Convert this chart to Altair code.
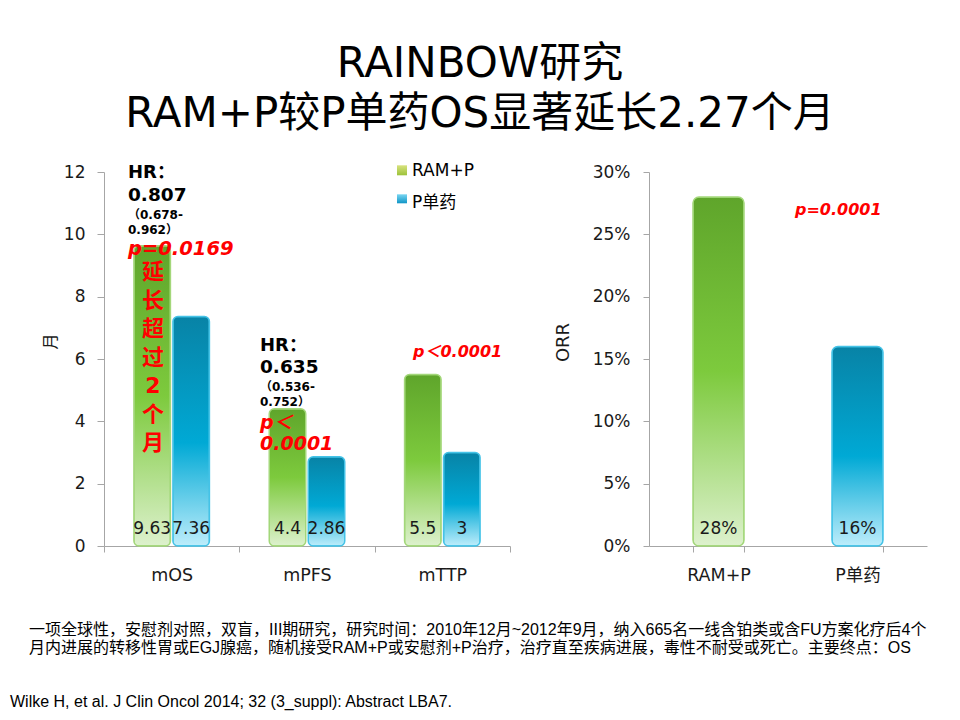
import altair as alt
import pandas as pd

# ---------------- data ----------------
categories = ["mOS", "mPFS", "mTTP"]
series = ["RAM+P", "P单药"]
ram_p_values = [9.63, 4.4, 5.5]
p_only_values = [7.36, 2.86, 3]
ram_p_labels = ["9.63", "4.4", "5.5"]
p_only_labels = ["7.36", "2.86", "3"]

orr_groups = ["RAM+P", "P单药"]
orr_values = [0.28, 0.16]
orr_labels = ["28%", "16%"]

left_ticks = [0, 2, 4, 6, 8, 10, 12]
right_ticks = [0, 0.05, 0.10, 0.15, 0.20, 0.25, 0.30]

title_lines = ["RAINBOW研究", "RAM+P较P单药OS显著延长2.27个月"]
footnote_lines = [
    "一项全球性，安慰剂对照，双盲，III期研究，研究时间：2010年12月~2012年9月，纳入665名一线含铂类或含FU方案化疗后4个",
    "月内进展的转移性胃或EGJ腺癌，随机接受RAM+P或安慰剂+P治疗，治疗直至疾病进展，毒性不耐受或死亡。主要终点：OS",
]
reference = "Wilke H, et al. J Clin Oncol 2014; 32 (3_suppl): Abstract LBA7."

rows = []
for c, v, l in zip(categories, ram_p_values, ram_p_labels):
    rows.append({"cat": c, "series": "RAM+P", "value": v, "label": l})
for c, v, l in zip(categories, p_only_values, p_only_labels):
    rows.append({"cat": c, "series": "P单药", "value": v, "label": l})
df_left = pd.DataFrame(rows)
df_right = pd.DataFrame({"group": orr_groups, "value": orr_values, "label": orr_labels})
one = pd.DataFrame({"k": [0]})

# ---------------- styles ----------------
FONT = "DejaVu Sans, Noto Sans CJK SC"
CJK = "Liberation Sans, Noto Sans CJK SC"
GRAY = "#a6a6a6"
INK = "#1a1a1a"
RED = "#ff0000"


def grad(stops):
    return alt.Gradient(
        gradient="linear",
        stops=[alt.GradientStop(color=c, offset=o) for o, c in stops],
        x1=0, x2=0, y1=0, y2=1,
    )


GREEN = grad([(0, "#5fa52b"), (0.5, "#7dca3d"), (1, "#ddf1cd")])
BLUE = grad([(0, "#0883a6"), (0.55, "#00a9d5"), (1, "#bdedfb")])
GREEN_LEG = grad([(0, "#d8e27e"), (1, "#9cc23a")])
BLUE_LEG = grad([(0, "#7ad6f2"), (1, "#0f95c6")])


def T(text, x, y, size, color="#000000", weight="normal", style="normal",
      align="left", baseline="middle", font=FONT, lineHeight=None):
    kw = dict(text=text, fontSize=size, color=color, fontWeight=weight,
              fontStyle=style, align=align, baseline=baseline, font=font)
    if lineHeight is not None:
        kw["lineHeight"] = lineHeight
    return alt.Chart(one).mark_text(**kw).encode(x=alt.value(x), y=alt.value(y))


# ---------------- left chart ----------------
LW, H = 406, 374

x_left = alt.X(
    "cat:N", sort=categories,
    scale=alt.Scale(domain=categories, paddingInner=0, paddingOuter=0),
    axis=alt.Axis(title=None, labelAngle=0, tickBand="extent", tickSize=6,
                  labelPadding=14, labelFontSize=17.5, labelColor=INK,
                  domainColor=GRAY, tickColor=GRAY, grid=False),
)
xoff_left = alt.XOffset(
    "series:N", sort=series,
    scale=alt.Scale(domain=series, paddingInner=0.064, paddingOuter=0.767),
)
y_left = alt.Y(
    "value:Q",
    scale=alt.Scale(domain=[0, 12], nice=False, zero=True),
    axis=alt.Axis(values=left_ticks, tickSize=7, labelPadding=12,
                  labelFontSize=17, labelColor=INK, domainColor=GRAY,
                  tickColor=GRAY, grid=False, title="月", titleFontSize=16,
                  titleFontWeight="normal", titleColor=INK, titleX=-54,
                  titleY=169, titleAngle=270, titleBaseline="middle"),
)

frame = alt.Chart(one).mark_rect(opacity=0).encode(
    x=alt.value(-96), x2=alt.value(848), y=alt.value(-163.7), y2=alt.value(540.3)
)

bars_g = alt.Chart(df_left).transform_filter(alt.datum.series == "RAM+P").mark_bar(
    color=GREEN, stroke="#a3d77a", strokeWidth=1.5, cornerRadius=5
).encode(x=x_left, xOffset=xoff_left, y=y_left)

bars_b = alt.Chart(df_left).transform_filter(alt.datum.series == "P单药").mark_bar(
    color=BLUE, stroke="#45c3e7", strokeWidth=1.5, cornerRadius=5
).encode(x=x_left, xOffset=xoff_left, y=y_left)

vals_left = alt.Chart(df_left).mark_text(
    fontSize=17, color=INK, font=FONT, baseline="middle"
).encode(x=x_left, xOffset=xoff_left, y=alt.value(357.3), text="label:N")

left_layers = [
    frame, bars_g, bars_b, vals_left,
    # title
    T(title_lines[0], 376, -94.7, 42, align="center", baseline="alphabetic"),
    T(title_lines[1], 376, -44.7, 42, align="center", baseline="alphabetic"),
    # legend
    alt.Chart(one).mark_rect(color=GREEN_LEG).encode(
        x=alt.value(293), x2=alt.value(303), y=alt.value(-6.7), y2=alt.value(3.3)),
    T(series[0], 308, -0.7, 17),
    alt.Chart(one).mark_rect(color=BLUE_LEG).encode(
        x=alt.value(293), x2=alt.value(303), y=alt.value(22.3), y2=alt.value(31.3)),
    T(series[1], 308, 31.3, 17),
    # mOS annotation
    T("HR：", 24, 1.3, 18, weight="bold"),
    T("0.807", 24, 23.3, 18.5, weight="bold"),
    T("（0.678-", 24, 43.3, 12, weight="bold"),
    T("0.962）", 24, 58.3, 12, weight="bold"),
    T("p=0.0169", 24, 77.3, 19.5, color=RED, weight="bold", style="italic"),
    T(["延", "长", "超", "过", "2", "个", "月"], 49, 100.3, 22, color=RED,
      weight="bold", align="center", lineHeight=28.5),
    # mPFS annotation
    T("HR：", 156, 174.3, 18, weight="bold"),
    T("0.635", 156, 195.3, 18.5, weight="bold"),
    T("（0.536-", 156, 215.3, 12, weight="bold"),
    T("0.752）", 156, 230.3, 12, weight="bold"),
    T("p＜", 156, 251.3, 19, color=RED, weight="bold", style="italic"),
    T("0.0001", 156, 272.3, 19, color=RED, weight="bold", style="italic"),
    # mTTP annotation
    T("p＜0.0001", 309, 180.3, 16, color=RED, weight="bold", style="italic"),
    # footnotes
    T(footnote_lines[0], -75, 458.3, 16, font=CJK),
    T(footnote_lines[1], -75, 475.8, 16, font=CJK),
    T(reference, -94, 530.3, 16, font=CJK),
]
left = alt.layer(*left_layers).properties(width=LW, height=H)

# ---------------- right chart ----------------
RW = 278
x_right = alt.X(
    "group:N", sort=orr_groups,
    scale=alt.Scale(domain=orr_groups, paddingInner=0.633, paddingOuter=0.3165),
    axis=alt.Axis(title=None, labelAngle=0, tickBand="extent", tickSize=6,
                  labelPadding=14, labelFontSize=17.5, labelColor=INK,
                  domainColor=GRAY, tickColor=GRAY, grid=False),
)
y_right = alt.Y(
    "value:Q",
    scale=alt.Scale(domain=[0, 0.3], nice=False, zero=True),
    axis=alt.Axis(values=right_ticks, format=".0%", tickSize=6, labelPadding=13,
                  labelFontSize=17, labelColor=INK, domainColor=GRAY,
                  tickColor=GRAY, grid=False, title="ORR", titleFontSize=18,
                  titleFontWeight="normal", titleColor=INK, titleX=-86,
                  titleY=170, titleAngle=270, titleBaseline="middle"),
)
rb_g = alt.Chart(df_right).transform_filter(alt.datum.group == "RAM+P").mark_bar(
    color=GREEN, stroke="#a3d77a", strokeWidth=1.5, cornerRadius=6
).encode(x=x_right, y=y_right)
rb_b = alt.Chart(df_right).transform_filter(alt.datum.group == "P单药").mark_bar(
    color=BLUE, stroke="#45c3e7", strokeWidth=1.5, cornerRadius=6
).encode(x=x_right, y=y_right)
vals_right = alt.Chart(df_right).mark_text(
    fontSize=17, color=INK, font=FONT, baseline="middle"
).encode(x=x_right, y=alt.value(357.3), text="label:N")

right = alt.layer(
    rb_g, rb_b, vals_right,
    T("p=0.0001", 146, 38.3, 16, color=RED, weight="bold", style="italic"),
).properties(width=RW, height=H)

chart = (
    alt.hconcat(left, right, spacing=139, bounds="flush")
    .properties(padding=0)
    .configure_view(stroke=None)
    .configure_axis(labelFont=FONT, titleFont=FONT)
)

chart.save("out.html", embed_options={"renderer": "svg", "actions": False})
